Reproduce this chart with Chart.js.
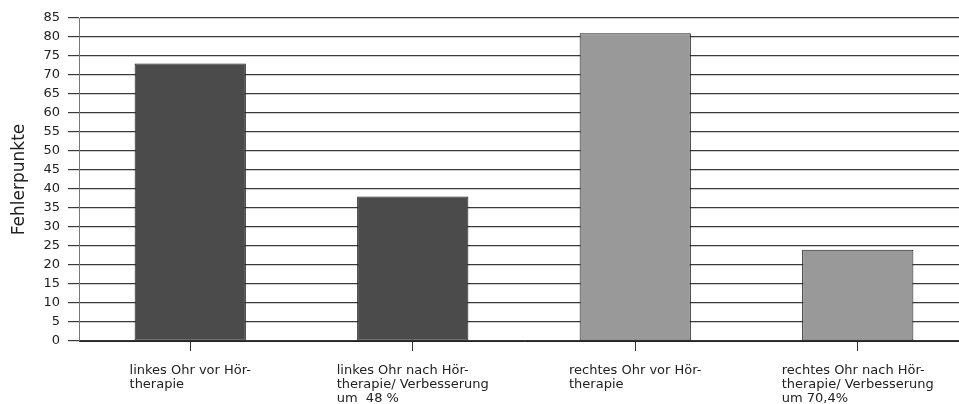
<!DOCTYPE html>
<html>
<head>
<meta charset="utf-8">
<script src="https://cdn.jsdelivr.net/npm/chart.js@4/dist/chart.umd.min.js"></script>
<style>
  html, body { margin: 0; padding: 0; background: #fff; overflow: hidden; }
  #wrap { width: 975px; height: 404px; }
</style>
</head>
<body>
<div id="wrap"><canvas id="chart" width="975" height="404"></canvas></div>
<script>
// Chart data
const categories = [
  ['linkes Ohr vor Hör-', 'therapie'],
  ['linkes Ohr nach Hör-', 'therapie/ Verbesserung', 'um  48 %'],
  ['rechtes Ohr vor Hör-', 'therapie'],
  ['rechtes Ohr nach Hör-', 'therapie/ Verbesserung', 'um 70,4%']
];
const values = [73, 38, 81, 24];
const barColors = ['#4b4b4b', '#4b4b4b', '#999999', '#999999'];
const yMin = 0;
const yMax = 85;
const yStep = 5;

const fontFamily = "'DejaVu Sans', sans-serif";

// Draws the multi-line category labels left-aligned as a block under each tick
const categoryLabels = {
  id: 'categoryLabels',
  afterDraw(chart) {
    const ctx = chart.ctx;
    const xScale = chart.scales.x;
    ctx.save();
    ctx.font = '13px ' + fontFamily;
    ctx.fillStyle = '#222';
    ctx.textAlign = 'left';
    ctx.textBaseline = 'alphabetic';
    categories.forEach((lines, i) => {
      const cx = xScale.getPixelForTick(i);
      const w = Math.max(...lines.map(l => ctx.measureText(l).width));
      lines.forEach((line, j) => {
        ctx.fillText(line, cx - w / 2, chart.chartArea.bottom + 33 + j * 14);
      });
    });
    ctx.restore();
  }
};

new Chart(document.getElementById('chart'), {
  type: 'bar',
  data: {
    labels: categories,
    datasets: [{
      data: values,
      backgroundColor: barColors,
      borderColor: '#1e1e1e',
      borderWidth: 1,
      borderSkipped: false,
      categoryPercentage: 1,
      barPercentage: 0.5
    }]
  },
  options: {
    responsive: false,
    animation: false,
    layout: { padding: { top: 18, bottom: 53, left: 0, right: 6 } },
    plugins: {
      legend: { display: false },
      tooltip: { enabled: false }
    },
    scales: {
      x: {
        grid: {
          offset: false,
          drawOnChartArea: false,
          drawTicks: true,
          tickLength: 10,
          color: '#333'
        },
        border: { color: '#222', width: 1 },
        ticks: { display: false }
      },
      y: {
        min: yMin,
        max: yMax,
        afterFit(scale) { scale.width = 79; },
        ticks: {
          stepSize: yStep,
          padding: 8,
          color: '#222',
          font: { family: fontFamily, size: 13 }
        },
        grid: {
          color: '#3a3a3a',
          lineWidth: 1.2,
          tickLength: 11
        },
        border: { color: '#777', width: 1 },
        title: {
          display: true,
          text: 'Fehlerpunkte',
          color: '#222',
          padding: { top: 9, bottom: 0 },
          font: { family: fontFamily, size: 17 }
        }
      }
    }
  },
  plugins: [categoryLabels]
});
</script>
</body>
</html>
